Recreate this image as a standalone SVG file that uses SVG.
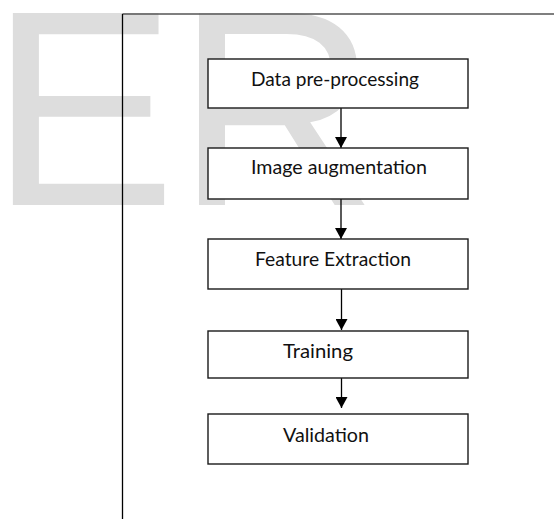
<svg xmlns="http://www.w3.org/2000/svg" width="554" height="519" viewBox="0 0 554 519">
<style>
.wm{font-family:"Liberation Sans",Arial,sans-serif;font-size:279px;fill:#dddddd}
.box{fill:#ffffff;stroke:#1a1a1a;stroke-width:1.4}
.lbl{font-family:Lato,"Open Sans",sans-serif;font-size:19px;fill:#111111}
.conn{stroke:#000000;stroke-width:1.3;fill:none}
</style>
<defs>
<marker id="arr" markerUnits="userSpaceOnUse" viewBox="0 0 11 12" refX="11" refY="6" markerWidth="11" markerHeight="12" orient="auto">
<path d="M0,0 L11,6 L0,12 z" fill="#000000"/>
</marker>
</defs>
<rect width="554" height="519" fill="#ffffff"/>
<text class="wm" x="-10" y="205">ER</text>
<g id="frame">
<line x1="122.5" y1="14" x2="554" y2="14" stroke="#555555" stroke-width="1.5"/>
<line x1="122.5" y1="14" x2="122.5" y2="519" stroke="#000000" stroke-width="1.3"/>
</g>
<g id="connectors">
<line class="conn" x1="341" y1="108" x2="341" y2="148" marker-end="url(#arr)"/>
<line class="conn" x1="341" y1="199" x2="341" y2="239" marker-end="url(#arr)"/>
<line class="conn" x1="341.5" y1="289" x2="341.5" y2="330" marker-end="url(#arr)"/>
<line class="conn" x1="341.5" y1="378" x2="341.5" y2="408" marker-end="url(#arr)"/>
</g>
<g id="n1">
<rect class="box" x="208" y="59" width="260" height="49"/>
<text class="lbl" x="251" y="86" textLength="168" lengthAdjust="spacingAndGlyphs">Data pre-processing</text>
</g>
<g id="n2">
<rect class="box" x="208" y="148" width="260" height="51"/>
<text class="lbl" x="251" y="174" textLength="176" lengthAdjust="spacingAndGlyphs">Image augmentation</text>
</g>
<g id="n3">
<rect class="box" x="208" y="239" width="260" height="50"/>
<text class="lbl" x="255" y="266" textLength="156" lengthAdjust="spacingAndGlyphs">Feature Extraction</text>
</g>
<g id="n4">
<rect class="box" x="208" y="331" width="260" height="47"/>
<text class="lbl" x="283" y="358" textLength="70" lengthAdjust="spacingAndGlyphs">Training</text>
</g>
<g id="n5">
<rect class="box" x="208" y="414" width="260" height="50"/>
<text class="lbl" x="283" y="442" textLength="86" lengthAdjust="spacingAndGlyphs">Validation</text>
</g>
</svg>
